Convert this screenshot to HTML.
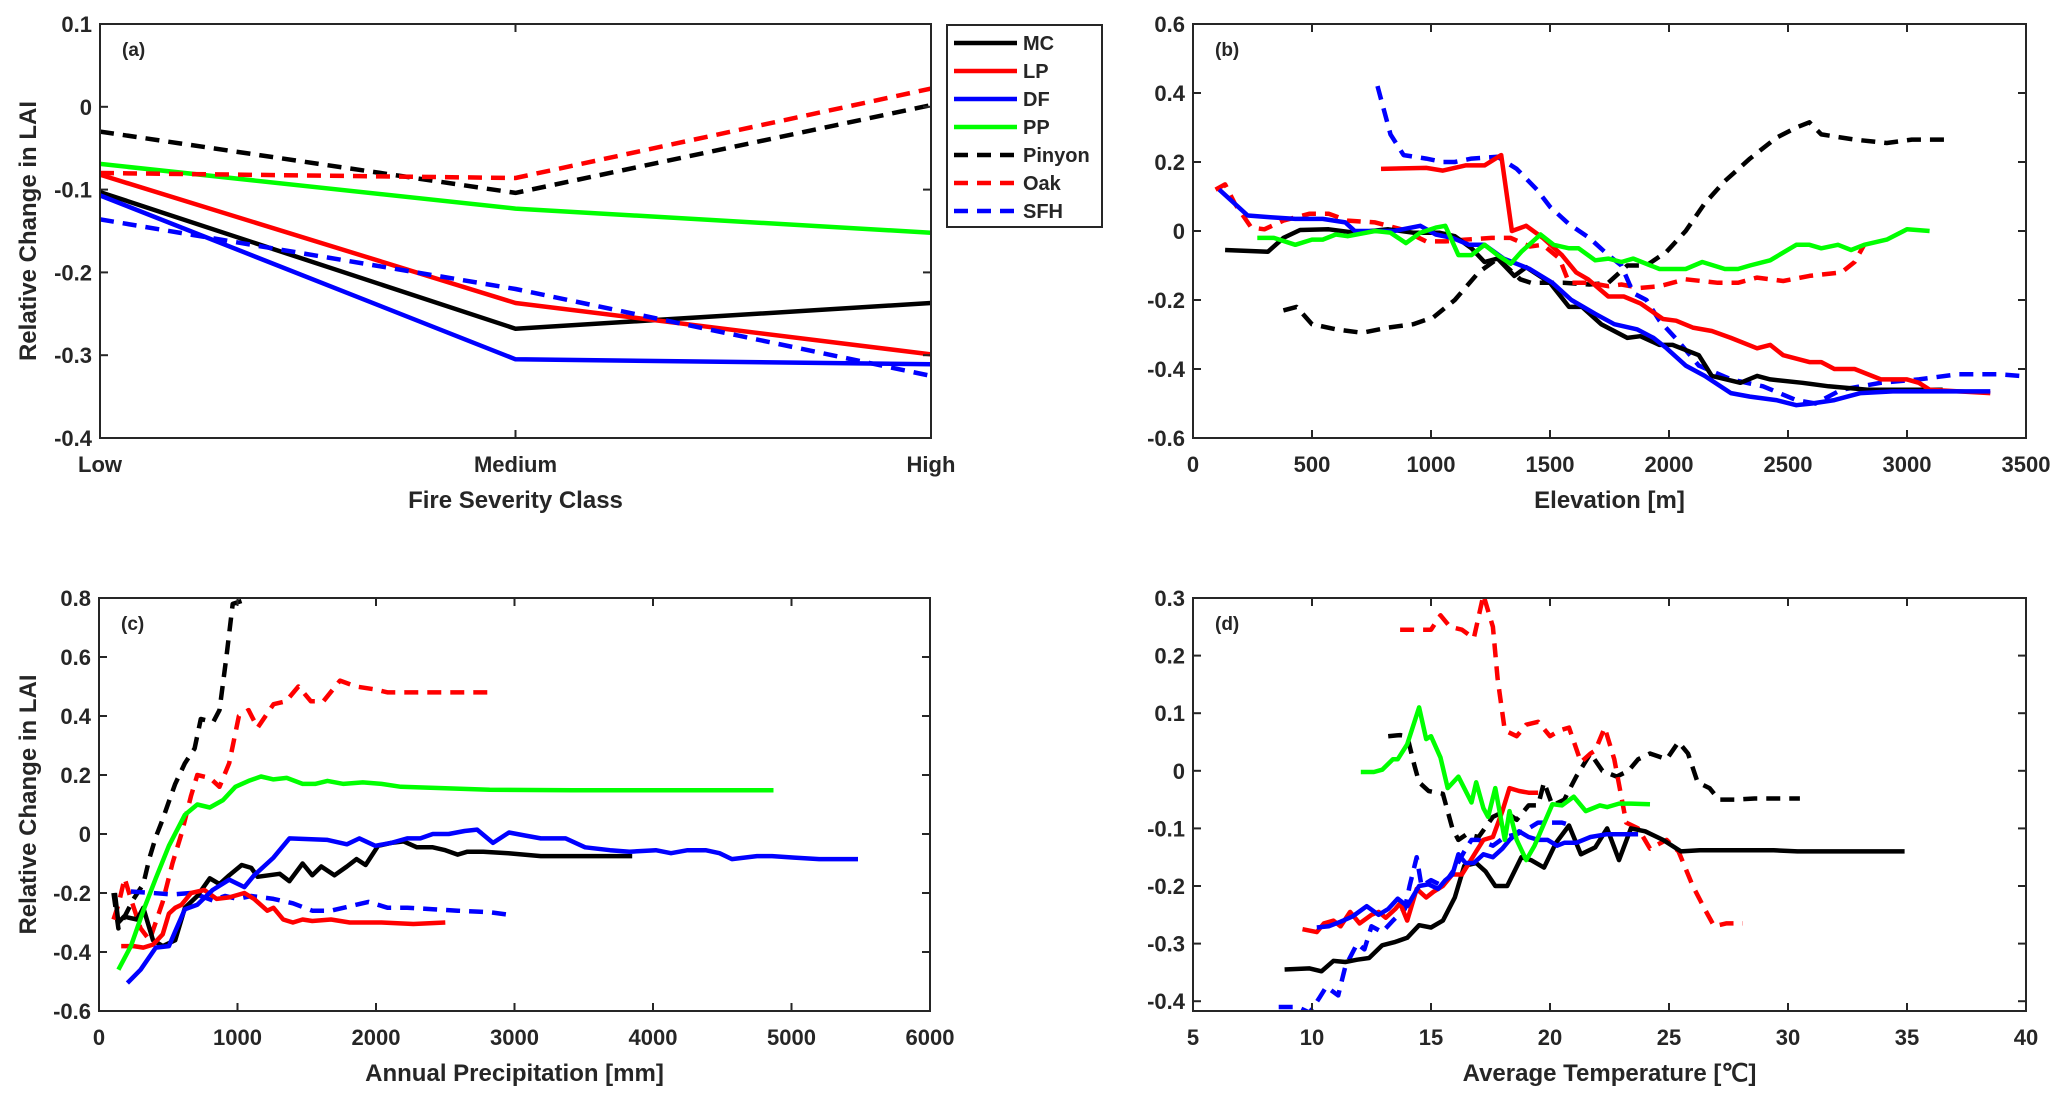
<!DOCTYPE html>
<html><head><meta charset="utf-8">
<style>
html,body{margin:0;padding:0;background:#fff;}
svg{display:block;}
text{font-family:"Liberation Sans Narrow","Liberation Sans",sans-serif;font-weight:bold;fill:#262626;}
</style></head>
<body>
<svg id="chart" width="2067" height="1104" viewBox="0 0 2067 1104" xmlns="http://www.w3.org/2000/svg"></svg>
<script>
// ---------- Panel (a) data ----------
const aCategories = ["Low","Medium","High"];
const aMC = [-0.103,-0.268,-0.237];
const aLP = [-0.082,-0.237,-0.299];
const aDF = [-0.107,-0.305,-0.311];
const aPP = [-0.069,-0.123,-0.152];
const aPinyon = [-0.030,-0.104,0.002];
const aOak = [-0.080,-0.086,0.022];
const aSFH = [-0.136,-0.220,-0.325];
const aYTicks = [0.1,0,-0.1,-0.2,-0.3,-0.4];

// ---------- Panel (b) data (Elevation) ----------
const bMCx=[135,315,380,450,570,680,820,925,1035,1100,1170,1225,1280,1350,1400,1500,1580,1635,1715,1825,1880,1960,2015,2125,2180,2300,2370,2425,2560,2670,2835,3150];
const bMCy=[-0.055,-0.06,-0.02,0.003,0.005,-0.005,0.005,-0.005,-0.005,-0.015,-0.05,-0.09,-0.08,-0.13,-0.105,-0.15,-0.22,-0.22,-0.27,-0.31,-0.305,-0.33,-0.33,-0.36,-0.42,-0.44,-0.42,-0.43,-0.44,-0.45,-0.46,-0.46];
const bLPx=[790,980,1050,1145,1225,1295,1340,1400,1470,1550,1610,1660,1745,1810,1880,1975,2030,2100,2180,2260,2370,2425,2480,2590,2640,2695,2780,2890,3000,3050,3095,3350];
const bLPy=[0.18,0.183,0.175,0.19,0.19,0.22,0.0,0.015,-0.02,-0.07,-0.12,-0.14,-0.19,-0.19,-0.21,-0.255,-0.26,-0.28,-0.29,-0.31,-0.34,-0.33,-0.36,-0.38,-0.38,-0.4,-0.4,-0.43,-0.43,-0.44,-0.46,-0.47];
const bDFx=[110,230,325,430,545,640,680,765,845,955,1020,1090,1160,1225,1305,1415,1510,1590,1690,1770,1865,1935,1990,2070,2150,2260,2340,2450,2535,2600,2695,2805,2940,3350];
const bDFy=[0.12,0.045,0.04,0.035,0.035,0.025,0.0,0.0,0.0,0.015,-0.01,-0.02,-0.04,-0.04,-0.08,-0.11,-0.15,-0.2,-0.24,-0.27,-0.285,-0.31,-0.34,-0.39,-0.42,-0.47,-0.48,-0.49,-0.505,-0.5,-0.49,-0.47,-0.465,-0.465];
const bPPx=[270,340,430,500,545,600,650,765,830,895,955,1020,1060,1115,1170,1225,1280,1335,1380,1460,1515,1580,1620,1690,1745,1800,1850,1960,2070,2140,2235,2290,2340,2425,2535,2590,2640,2710,2765,2820,2915,3000,3095];
const bPPy=[-0.02,-0.02,-0.04,-0.025,-0.025,-0.01,-0.015,0.0,-0.005,-0.035,-0.005,0.01,0.015,-0.07,-0.07,-0.04,-0.07,-0.095,-0.06,-0.01,-0.04,-0.05,-0.05,-0.085,-0.08,-0.09,-0.08,-0.11,-0.11,-0.09,-0.11,-0.11,-0.1,-0.085,-0.04,-0.04,-0.05,-0.04,-0.055,-0.04,-0.025,0.005,0.0];
const bPinx=[380,435,500,600,710,820,925,1010,1100,1200,1280,1375,1420,1555,1665,1745,1825,1905,1990,2070,2150,2235,2340,2450,2535,2590,2640,2780,2915,3020,3185];
const bPiny=[-0.23,-0.22,-0.27,-0.285,-0.295,-0.28,-0.27,-0.25,-0.2,-0.12,-0.08,-0.14,-0.15,-0.15,-0.155,-0.15,-0.1,-0.1,-0.06,0.0,0.08,0.145,0.21,0.27,0.3,0.315,0.28,0.265,0.255,0.265,0.265];
const bOakx=[95,135,175,245,300,380,490,570,650,765,875,980,1060,1145,1255,1335,1415,1470,1540,1580,1665,1745,1800,1880,1960,2070,2205,2290,2370,2480,2590,2725,2780,2820];
const bOaky=[0.12,0.135,0.08,0.01,0.005,0.03,0.05,0.05,0.03,0.025,0.005,-0.03,-0.03,-0.025,-0.02,-0.02,-0.045,-0.04,-0.08,-0.15,-0.15,-0.16,-0.155,-0.165,-0.16,-0.14,-0.15,-0.15,-0.135,-0.145,-0.13,-0.12,-0.09,-0.04];
const bSFHx=[775,830,885,980,1050,1100,1170,1280,1360,1445,1500,1580,1665,1745,1800,1850,1905,1960,2040,2125,2260,2395,2535,2615,2725,2890,3050,3215,3380,3475];
const bSFHy=[0.42,0.28,0.22,0.21,0.2,0.2,0.21,0.215,0.18,0.12,0.07,0.02,-0.02,-0.07,-0.1,-0.18,-0.2,-0.26,-0.32,-0.39,-0.43,-0.45,-0.49,-0.5,-0.46,-0.44,-0.43,-0.415,-0.415,-0.42];
const bXTicks=[0,500,1000,1500,2000,2500,3000,3500];
const bYTicks=[0.6,0.4,0.2,0,-0.2,-0.4,-0.6];

// ---------- Panel (c) data (Precipitation) ----------
const cMCx=[115,140,180,275,320,390,460,550,620,710,800,870,940,1030,1100,1145,1305,1375,1470,1540,1605,1700,1790,1860,1925,2015,2110,2200,2295,2410,2500,2590,2660,2775,2955,3190,3420,3850];
const cMCy=[-0.2,-0.3,-0.28,-0.29,-0.25,-0.36,-0.38,-0.36,-0.25,-0.21,-0.15,-0.17,-0.14,-0.105,-0.115,-0.145,-0.135,-0.16,-0.1,-0.14,-0.11,-0.14,-0.11,-0.085,-0.105,-0.04,-0.03,-0.025,-0.045,-0.045,-0.055,-0.07,-0.06,-0.06,-0.065,-0.075,-0.075,-0.075];
const cLPx=[160,250,320,390,460,505,550,595,665,760,850,940,1050,1120,1215,1260,1330,1400,1470,1540,1675,1810,2040,2270,2500];
const cLPy=[-0.38,-0.38,-0.385,-0.375,-0.34,-0.27,-0.25,-0.24,-0.2,-0.19,-0.22,-0.215,-0.2,-0.22,-0.26,-0.25,-0.29,-0.3,-0.29,-0.295,-0.29,-0.3,-0.3,-0.305,-0.3];
const cDFx=[205,300,410,505,550,620,710,820,940,1050,1120,1190,1260,1375,1650,1790,1880,1995,2110,2225,2320,2410,2525,2640,2730,2845,2960,3075,3190,3370,3510,3690,3830,4020,4130,4250,4380,4480,4570,4750,4860,5020,5200,5480];
const cDFy=[-0.505,-0.46,-0.385,-0.38,-0.33,-0.255,-0.24,-0.19,-0.155,-0.18,-0.14,-0.11,-0.08,-0.015,-0.02,-0.035,-0.015,-0.04,-0.03,-0.015,-0.015,0.0,0.0,0.01,0.015,-0.03,0.005,-0.005,-0.015,-0.015,-0.045,-0.055,-0.06,-0.055,-0.065,-0.055,-0.055,-0.065,-0.085,-0.075,-0.075,-0.08,-0.085,-0.085];
const cPPx=[140,230,320,410,505,620,710,800,895,985,1080,1170,1260,1355,1470,1560,1650,1765,1905,2040,2180,2500,2820,3420,4870];
const cPPy=[-0.46,-0.38,-0.26,-0.15,-0.04,0.065,0.1,0.09,0.115,0.16,0.18,0.195,0.185,0.19,0.17,0.17,0.18,0.17,0.175,0.17,0.16,0.155,0.15,0.148,0.148];
const cPinx=[105,140,185,250,320,365,410,460,505,550,620,690,735,825,870,920,965,1030];
const cPiny=[-0.2,-0.32,-0.28,-0.22,-0.17,-0.08,-0.01,0.05,0.11,0.17,0.24,0.29,0.39,0.38,0.42,0.6,0.78,0.79];
const cOakx=[105,140,185,230,300,365,460,530,595,665,710,800,870,940,1010,1080,1145,1260,1350,1440,1530,1620,1740,1855,1995,2085,2315,2865];
const cOaky=[-0.29,-0.24,-0.15,-0.22,-0.32,-0.36,-0.23,-0.1,0.0,0.13,0.2,0.19,0.16,0.24,0.4,0.42,0.36,0.44,0.45,0.5,0.45,0.45,0.52,0.5,0.49,0.48,0.48,0.48];
const cSFHx=[230,390,530,665,735,820,910,1000,1100,1260,1400,1540,1675,1810,1945,2085,2225,2410,2590,2820,2980];
const cSFHy=[-0.195,-0.2,-0.205,-0.2,-0.21,-0.225,-0.21,-0.22,-0.21,-0.22,-0.235,-0.26,-0.26,-0.245,-0.23,-0.25,-0.25,-0.255,-0.26,-0.265,-0.275];
const cXTicks=[0,1000,2000,3000,4000,5000,6000];
const cYTicks=[0.8,0.6,0.4,0.2,0,-0.2,-0.4,-0.6];

// ---------- Panel (d) data (Temperature) ----------
const dMCx=[8.85,9.9,10.4,10.9,11.4,11.9,12.4,12.95,13.5,14.0,14.5,15.0,15.5,16.0,16.4,16.9,17.3,17.7,18.2,18.8,19.2,19.75,20.25,20.8,21.3,21.9,22.4,22.9,23.4,24.0,24.75,25.5,26.3,29.4,30.4,34.9];
const dMCy=[-0.345,-0.343,-0.348,-0.33,-0.332,-0.328,-0.325,-0.303,-0.297,-0.29,-0.268,-0.272,-0.26,-0.22,-0.165,-0.16,-0.175,-0.2,-0.2,-0.15,-0.155,-0.168,-0.125,-0.095,-0.145,-0.133,-0.1,-0.155,-0.1,-0.105,-0.12,-0.14,-0.138,-0.138,-0.14,-0.14];
const dLPx=[9.6,10.2,10.5,10.9,11.2,11.6,12.0,12.5,12.8,13.1,13.5,13.7,14.0,14.4,14.8,15.1,15.5,15.9,16.3,16.6,16.9,17.2,17.6,18.0,18.3,18.7,19.1,19.5];
const dLPy=[-0.275,-0.28,-0.265,-0.26,-0.27,-0.245,-0.265,-0.25,-0.245,-0.255,-0.24,-0.23,-0.26,-0.205,-0.22,-0.21,-0.2,-0.18,-0.18,-0.16,-0.14,-0.12,-0.115,-0.07,-0.03,-0.035,-0.038,-0.038];
const dDFx=[10.2,10.7,11.2,11.7,12.3,12.8,13.2,13.6,14.0,14.5,14.9,15.3,15.6,15.9,16.15,16.45,16.8,17.2,17.6,18.0,18.3,18.7,19.1,19.5,19.9,20.3,20.6,21.1,21.7,22.4,23.7];
const dDFy=[-0.272,-0.27,-0.262,-0.253,-0.235,-0.25,-0.24,-0.222,-0.235,-0.2,-0.197,-0.205,-0.19,-0.18,-0.145,-0.16,-0.16,-0.145,-0.15,-0.135,-0.12,-0.105,-0.115,-0.12,-0.12,-0.13,-0.125,-0.125,-0.115,-0.11,-0.11];
const dPPx=[12.05,12.6,12.95,13.4,13.6,14.0,14.5,14.8,15.0,15.4,15.7,16.15,16.7,16.9,17.2,17.4,17.7,18.1,18.3,18.6,19.0,19.35,20.1,20.5,21.0,21.5,22.1,22.4,22.9,23.4,24.2];
const dPPy=[-0.002,-0.002,0.002,0.02,0.02,0.046,0.11,0.055,0.06,0.023,-0.03,-0.01,-0.055,-0.02,-0.065,-0.08,-0.03,-0.12,-0.07,-0.12,-0.155,-0.13,-0.058,-0.06,-0.045,-0.07,-0.06,-0.063,-0.057,-0.057,-0.058];
const dPinx=[13.2,13.7,14.0,14.3,14.5,14.9,15.5,15.9,16.15,16.5,17.0,17.6,18.1,18.6,19.1,19.5,19.75,20.1,20.6,21.1,21.7,22.2,22.8,23.3,23.7,24.2,24.9,25.4,25.8,26.2,26.7,27.1,27.8,28.6,30.5];
const dPiny=[0.06,0.062,0.06,0.01,-0.02,-0.035,-0.04,-0.1,-0.12,-0.11,-0.115,-0.08,-0.07,-0.085,-0.06,-0.06,-0.02,-0.06,-0.05,-0.01,0.03,0.0,-0.01,0.0,0.02,0.03,0.02,0.05,0.03,-0.02,-0.03,-0.05,-0.05,-0.048,-0.048];
const dOakx=[13.7,14.4,15.0,15.4,15.8,16.3,16.8,17.2,17.6,17.8,18.1,18.6,19.0,19.5,20.0,20.4,20.8,21.3,21.7,21.9,22.3,22.7,23.2,23.7,24.2,24.9,25.4,26.0,26.5,26.9,27.4,28.1];
const dOaky=[0.245,0.245,0.245,0.27,0.25,0.245,0.23,0.305,0.25,0.16,0.07,0.06,0.08,0.085,0.06,0.07,0.075,0.015,0.03,0.035,0.075,0.02,-0.09,-0.1,-0.135,-0.12,-0.14,-0.2,-0.24,-0.27,-0.265,-0.265];
const dSFHx=[8.6,9.4,9.9,10.3,10.6,11.1,11.4,11.9,12.2,12.5,12.95,13.4,13.9,14.1,14.4,14.6,15.0,15.5,16.0,16.4,16.7,17.0,17.6,18.1,18.6,19.1,19.5,19.9,20.5,20.9];
const dSFHy=[-0.41,-0.41,-0.42,-0.395,-0.375,-0.39,-0.34,-0.3,-0.31,-0.27,-0.28,-0.26,-0.24,-0.2,-0.15,-0.2,-0.19,-0.2,-0.17,-0.14,-0.12,-0.12,-0.13,-0.115,-0.11,-0.1,-0.09,-0.09,-0.09,-0.095];
const dXTicks=[5,10,15,20,25,30,35,40];
const dYTicks=[0.3,0.2,0.1,0,-0.1,-0.2,-0.3,-0.4];

const legendNames=["MC","LP","DF","PP","Pinyon","Oak","SFH"];

const NS="http://www.w3.org/2000/svg";
const svg=document.getElementById('chart');
const COLORS={MC:"#000000",LP:"#ff0000",DF:"#0000ff",PP:"#00ff00",Pinyon:"#000000",Oak:"#ff0000",SFH:"#0000ff"};
const DASHED={Pinyon:true,Oak:true,SFH:true};
let clipId=0;

function mk(tag,attrs,parent){const e=document.createElementNS(NS,tag);for(const k in attrs)e.setAttribute(k,attrs[k]);(parent||svg).appendChild(e);return e;}
function fmt(v){return (Math.round(v*10)/10===v&&Math.abs(v)<1&&v!==0)?String(v).replace("0.",".").replace(/^\./,"0.").replace("-.","-0."):String(v);}

function panel(o){
  const g=mk('g',{});
  
  
  const sx=v=>o.L+(v-o.x0)/(o.x1-o.x0)*(o.R-o.L);
  const sy=v=>o.B-(v-o.y0)/(o.y1-o.y0)*(o.B-o.T);
  const id='clip'+(clipId++);
  const cp=mk('clipPath',{id:id},g);
  mk('rect',{x:o.L,y:o.T,width:o.R-o.L,height:o.B-o.T},cp);
  const bg=mk('rect',{x:o.L,y:o.T,width:o.R-o.L,height:o.B-o.T,fill:'#fff'},g);
  
  
  // series
  const sg=mk('g',{'clip-path':'url(#'+id+')'},g);
  o.series.forEach(s=>{
    const pts=s.x.map((xv,i)=>sx(xv).toFixed(1)+','+sy(s.y[i]).toFixed(1)).join(' ');
    const pl=mk('polyline',{points:pts,fill:'none',stroke:COLORS[s.n],'stroke-width':4.5,'stroke-linejoin':'round','stroke-dasharray':DASHED[s.n]?'14,9':'none'},sg);
    
    
  });
  // axes box
  const box=mk('rect',{x:o.L,y:o.T,width:o.R-o.L,height:o.B-o.T,fill:'none',stroke:'#262626','stroke-width':2},g);
  
  
  // x ticks
  o.xt.forEach((t,i)=>{
    const x=sx(t.v);
    mk('line',{x1:x,y1:o.B,x2:x,y2:o.B-8,stroke:'#262626','stroke-width':2},g);
    mk('line',{x1:x,y1:o.T,x2:x,y2:o.T+8,stroke:'#262626','stroke-width':2},g);
    const tx=mk('text',{x:x,y:o.B+34,'text-anchor':'middle','font-size':22},g);
    tx.textContent=t.l;
    
    
  });
  o.yt.forEach(v=>{
    const y=sy(v);
    mk('line',{x1:o.L,y1:y,x2:o.L+8,y2:y,stroke:'#262626','stroke-width':2},g);
    mk('line',{x1:o.R,y1:y,x2:o.R-8,y2:y,stroke:'#262626','stroke-width':2},g);
    const tx=mk('text',{x:o.L-8,y:y+8,'text-anchor':'end','font-size':22},g);
    tx.textContent=String(v);
    
    
  });
  const xl=mk('text',{x:(o.L+o.R)/2,y:o.B+70,'text-anchor':'middle','font-size':24},g);
  xl.textContent=o.xlabel;
  
  
  if(o.ylabel){
    const cy=(o.T+o.B)/2;
    const yl=mk('text',{x:0,y:0,'text-anchor':'middle','font-size':24,transform:'translate(36,'+cy+') rotate(-90)',style:'font-family:"Liberation Sans",sans-serif;'},g);
    yl.textContent=o.ylabel;
    
    
  }
  const pl=mk('text',{x:o.L+22,y:o.T+32,'font-size':19},g);
  pl.textContent=o.tag;
  
  
}

const idx=[0,1,2];
panel({name:'panel-a',L:100,R:931,T:24,B:438,x0:0,x1:2,y0:-0.4,y1:0.1,
  xt:aCategories.map((c,i)=>({v:i,l:c})),yt:aYTicks,xlabel:'Fire Severity Class',ylabel:'Relative Change in LAI',tag:'(a)',
  series:[{n:'MC',x:idx,y:aMC},{n:'LP',x:idx,y:aLP},{n:'DF',x:idx,y:aDF},{n:'PP',x:idx,y:aPP},{n:'Pinyon',x:idx,y:aPinyon},{n:'Oak',x:idx,y:aOak},{n:'SFH',x:idx,y:aSFH}]});
panel({name:'panel-b',L:1193,R:2026,T:24,B:438,x0:0,x1:3500,y0:-0.6,y1:0.6,
  xt:bXTicks.map(v=>({v:v,l:String(v)})),yt:bYTicks,xlabel:'Elevation [m]',tag:'(b)',
  series:[{n:'Pinyon',x:bPinx,y:bPiny},{n:'Oak',x:bOakx,y:bOaky},{n:'SFH',x:bSFHx,y:bSFHy},{n:'MC',x:bMCx,y:bMCy},{n:'LP',x:bLPx,y:bLPy},{n:'DF',x:bDFx,y:bDFy},{n:'PP',x:bPPx,y:bPPy}]});
panel({name:'panel-c',L:99,R:930,T:598,B:1011,x0:0,x1:6000,y0:-0.6,y1:0.8,
  xt:cXTicks.map(v=>({v:v,l:String(v)})),yt:cYTicks,xlabel:'Annual Precipitation [mm]',ylabel:'Relative Change in LAI',tag:'(c)',
  series:[{n:'Pinyon',x:cPinx,y:cPiny},{n:'Oak',x:cOakx,y:cOaky},{n:'SFH',x:cSFHx,y:cSFHy},{n:'MC',x:cMCx,y:cMCy},{n:'LP',x:cLPx,y:cLPy},{n:'DF',x:cDFx,y:cDFy},{n:'PP',x:cPPx,y:cPPy}]});
panel({name:'panel-d',L:1193,R:2026,T:598,B:1011,x0:5,x1:40,y0:-0.417,y1:0.3,
  xt:dXTicks.map(v=>({v:v,l:String(v)})),yt:dYTicks,xlabel:'Average Temperature [\u2103]',tag:'(d)',
  series:[{n:'Pinyon',x:dPinx,y:dPiny},{n:'Oak',x:dOakx,y:dOaky},{n:'SFH',x:dSFHx,y:dSFHy},{n:'MC',x:dMCx,y:dMCy},{n:'LP',x:dLPx,y:dLPy},{n:'DF',x:dDFx,y:dDFy},{n:'PP',x:dPPx,y:dPPy}]});

// legend
const lg=mk('g',{});


mk('rect',{x:947,y:25,width:155,height:202,fill:'#fff',stroke:'#262626','stroke-width':2},lg);
legendNames.forEach((n,i)=>{
  const y=43+i*28;
  const e=mk('g',{},lg);
  
  
  mk('line',{x1:954,y1:y,x2:1017,y2:y,stroke:COLORS[n],'stroke-width':4.5,'stroke-dasharray':DASHED[n]?'14,9':'none'},e);
  const t=mk('text',{x:1023,y:y+7,'font-size':20},e);
  t.textContent=n;
});
</script>
</body></html>
